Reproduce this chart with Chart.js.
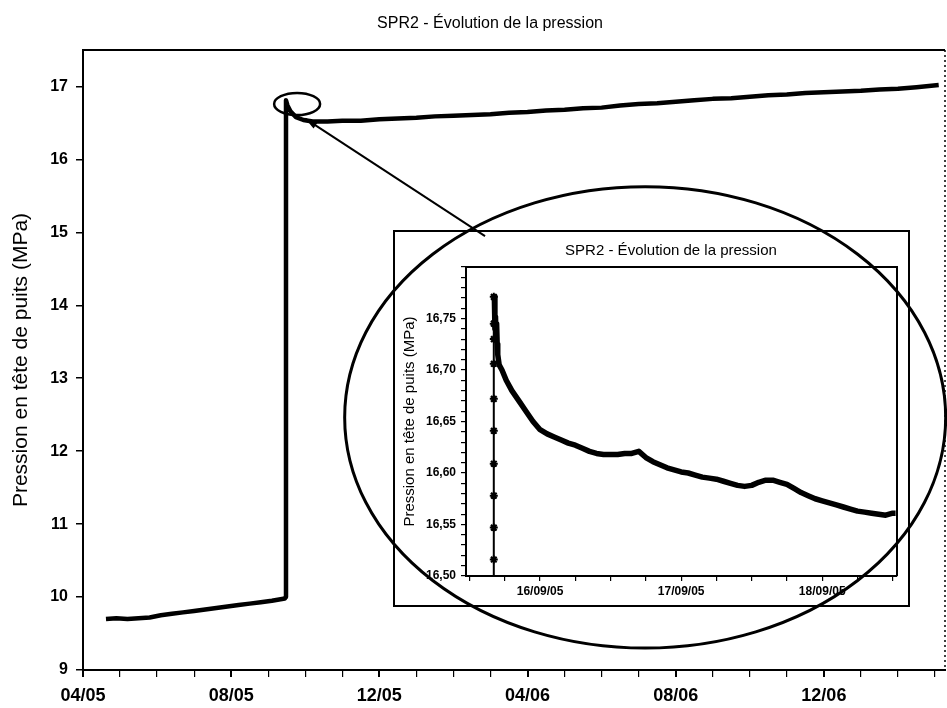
<!DOCTYPE html>
<html>
<head>
<meta charset="utf-8">
<title>SPR2 - Évolution de la pression</title>
<script src="https://cdn.jsdelivr.net/npm/chart.js@4.4.1/dist/chart.umd.min.js"></script>
<style>
  body { margin: 0; background: #fff; }
  #stage { position: relative; width: 947px; height: 708px; }
  #stage canvas { position: absolute; left: 0; top: 0; }
</style>
</head>
<body>
<div id="stage">
  <canvas id="main-chart" width="947" height="708"></canvas>
  <canvas id="inset-chart" width="947" height="708"></canvas>
</div>
<script>
const chartTitle = "SPR2 - Évolution de la pression";
const axisTitle = "Pression en tête de puits (MPa)";

// main chart: months since 04/2005
const mainMonths = [
  0.62, 0.9, 1.2, 1.5, 1.8, 2.1, 2.4, 2.7, 3.0, 3.3, 3.6, 3.9, 4.2, 4.5, 4.8, 5.1, 5.45, 5.47,
  5.48, 5.52, 5.6, 5.75, 5.95, 6.2, 6.6, 7.0, 7.5, 8.0, 8.5, 9.0, 9.5, 10.0, 10.5, 11.0, 11.5,
  12.0, 12.5, 13.0, 13.5, 14.0, 14.5, 15.0, 15.5, 16.0, 16.5, 17.0, 17.5, 18.0, 18.5, 19.0,
  19.5, 20.0, 20.5, 21.0, 21.5, 22.0, 22.5, 23.1,
];
const mainPressure = [
  9.70, 9.71, 9.70, 9.71, 9.72, 9.75, 9.77, 9.79, 9.81, 9.83, 9.85, 9.87, 9.89, 9.91, 9.93, 9.95, 9.98, 10.0,
  16.81, 16.74, 16.66, 16.58, 16.54, 16.52, 16.52, 16.53, 16.53, 16.55, 16.56, 16.57, 16.59, 16.60, 16.61, 16.62, 16.64,
  16.65, 16.67, 16.68, 16.70, 16.71, 16.74, 16.76, 16.77, 16.79, 16.81, 16.83, 16.84, 16.86, 16.88, 16.89,
  16.91, 16.92, 16.93, 16.94, 16.96, 16.97, 16.99, 17.02,
];
const mainTickMonths = [0, 4, 8, 12, 16, 20];
const mainTickLabels = ["04/05", "08/05", "12/05", "04/06", "08/06", "12/06"];

// inset chart: day of September 2005
const insetRiseDays = [15.672, 15.672, 15.672, 15.672, 15.672, 15.672, 15.672, 15.672, 15.672, 15.672, 15.672];
const insetRisePressure = [16.485, 16.516, 16.547, 16.578, 16.609, 16.641, 16.672, 16.706, 16.73, 16.745, 16.771];
const insetDays = [
  15.676, 15.68, 15.684, 15.688, 15.692, 15.696, 15.70, 15.71, 15.73, 15.76, 15.80, 15.85, 15.90, 15.95,
  16.00, 16.05, 16.10, 16.15, 16.20, 16.25, 16.30, 16.35, 16.40, 16.45, 16.50, 16.55, 16.60, 16.65, 16.70,
  16.75, 16.80, 16.85, 16.90, 16.95, 17.00, 17.05, 17.10, 17.15, 17.20, 17.25, 17.30, 17.35, 17.40, 17.45,
  17.50, 17.55, 17.60, 17.65, 17.70, 17.75, 17.80, 17.85, 17.90, 17.95, 18.00, 18.05, 18.10, 18.15, 18.20,
  18.25, 18.30, 18.35, 18.40, 18.45, 18.50, 18.52,
];
const insetPressure = [
  16.771, 16.74, 16.752, 16.73, 16.745, 16.725, 16.715, 16.705, 16.700, 16.690, 16.680, 16.670, 16.660, 16.650,
  16.642, 16.638, 16.635, 16.632, 16.629, 16.627, 16.624, 16.621, 16.619, 16.618, 16.618, 16.618, 16.619, 16.619, 16.621,
  16.615, 16.611, 16.608, 16.605, 16.603, 16.601, 16.600, 16.598, 16.596, 16.595, 16.594, 16.592, 16.590, 16.588, 16.587,
  16.588, 16.591, 16.593, 16.593, 16.591, 16.589, 16.585, 16.581, 16.578, 16.575, 16.573, 16.571, 16.569, 16.567, 16.565,
  16.563, 16.562, 16.561, 16.560, 16.559, 16.561, 16.561,
];
const insetTickDays = [16, 17, 18];
const insetTickLabels = ["16/09/05", "17/09/05", "18/09/05"];
const insetPressureTicks = [16.5, 16.55, 16.6, 16.65, 16.7, 16.75];
const insetPressureLabels = ["16,50", "16,55", "16,60", "16,65", "16,70", "16,75"];

const fontFamily = '"Liberation Sans", Arial, sans-serif';
let mainChart;
let insetChart;

function labelFor(value, ticks, labels) {
  const index = ticks.findIndex((tick) => Math.abs(tick - value) < 1e-6);
  return index >= 0 ? labels[index] : "";
}

function toPoints(xs, ys) {
  return xs.map((x, i) => ({ x, y: ys[i] }));
}

const mainFramePlugin = {
  id: "mainFrame",
  afterDraw(chart) {
    const { ctx, chartArea } = chart;
    ctx.save();
    ctx.strokeStyle = "#000";
    ctx.lineWidth = 2;
    ctx.beginPath();
    ctx.moveTo(chartArea.left, chartArea.top);
    ctx.lineTo(chartArea.right, chartArea.top);
    ctx.stroke();
    ctx.setLineDash([2, 3]);
    ctx.lineWidth = 1.5;
    ctx.beginPath();
    ctx.moveTo(chartArea.right, chartArea.top);
    ctx.lineTo(chartArea.right, chartArea.bottom);
    ctx.stroke();
    ctx.fillStyle = "#000";
    ctx.font = `16px ${fontFamily}`;
    ctx.textAlign = "center";
    ctx.textBaseline = "middle";
    ctx.fillText(chartTitle, 490, 24);
    ctx.restore();
  },
};

function renderMainChart() {
  mainChart = new Chart(document.getElementById("main-chart"), {
    type: "line",
    data: {
      datasets: [
        {
          data: toPoints(mainMonths, mainPressure),
          borderColor: "#000",
          borderWidth: 4.5,
          borderJoinStyle: "round",
          pointRadius: 0,
          tension: 0,
        },
      ],
    },
    options: {
      responsive: false,
      animation: false,
      devicePixelRatio: 1,
      layout: { padding: { top: 50, right: 2, left: 0, bottom: 0 } },
      plugins: { legend: { display: false }, tooltip: { enabled: false } },
      scales: {
        x: {
          type: "linear",
          min: 0,
          max: 23.27,
          afterFit(scale) {
            scale.height = 38;
          },
          ticks: {
            stepSize: 1,
            includeBounds: false,
            autoSkip: false,
            maxRotation: 0,
            padding: 8,
            color: "#000",
            font: { family: fontFamily, size: 18, weight: "bold" },
            callback: (value) => labelFor(value, mainTickMonths, mainTickLabels),
          },
          grid: {
            drawOnChartArea: false,
            tickLength: 7,
            color: "#000",
            lineWidth: (context) => (context.tick && context.tick.value % 4 === 0 ? 2 : 1.2),
          },
          border: { color: "#000", width: 2 },
        },
        y: {
          min: 9,
          max: 17.5,
          afterFit(scale) {
            scale.width = 83;
          },
          ticks: {
            stepSize: 1,
            includeBounds: false,
            padding: 8,
            color: "#000",
            font: { family: fontFamily, size: 16, weight: "bold" },
          },
          grid: { drawOnChartArea: false, tickLength: 7, color: "#000", lineWidth: 1.5 },
          border: { color: "#000", width: 2 },
          title: {
            display: true,
            text: axisTitle,
            color: "#000",
            font: { family: fontFamily, size: 21 },
            padding: { top: 9, bottom: 0 },
          },
        },
      },
    },
    plugins: [mainFramePlugin],
  });
}

// annotation anchors, in data units of each chart
const zoomMark = { month: 5.78, pressure: 16.76 };
const arrowTip = { month: 6.0, pressure: 16.56 };
const arrowTail = { day: 15.61, pressure: 16.83 };
const bigEllipse = { day: 16.745, pressure: 16.654, dayRadius: 2.13, pressureRadius: 0.224 };

const insetPlugin = {
  id: "insetFrame",
  beforeDraw(chart) {
    const { ctx, chartArea, scales } = chart;
    const left = chartArea.left - scales.y.width;
    const top = chartArea.top - 36;
    const right = chartArea.right + 12;
    const bottom = chartArea.bottom + scales.x.height;
    ctx.save();
    ctx.fillStyle = "#fff";
    ctx.fillRect(left, top, right - left, bottom - top);
    ctx.strokeStyle = "#000";
    ctx.lineWidth = 2;
    ctx.strokeRect(left, top, right - left, bottom - top);
    ctx.fillStyle = "#000";
    ctx.font = `15px ${fontFamily}`;
    ctx.textAlign = "center";
    ctx.textBaseline = "middle";
    ctx.fillText(chartTitle, 671, top + 20);
    ctx.restore();
  },
  afterDatasetsDraw(chart) {
    const { ctx, chartArea } = chart;
    ctx.save();
    ctx.strokeStyle = "#000";
    ctx.lineWidth = 2;
    ctx.beginPath();
    ctx.moveTo(chartArea.left, chartArea.top);
    ctx.lineTo(chartArea.right, chartArea.top);
    ctx.lineTo(chartArea.right, chartArea.bottom);
    ctx.stroke();
    ctx.restore();
  },
  afterDraw(chart) {
    const { ctx, scales } = chart;
    const mainX = mainChart.scales.x;
    const mainY = mainChart.scales.y;
    ctx.save();
    ctx.strokeStyle = "#000";
    ctx.fillStyle = "#000";
    ctx.lineWidth = 3;

    // large ellipse around the inset
    const cx = scales.x.getPixelForValue(bigEllipse.day);
    const cy = scales.y.getPixelForValue(bigEllipse.pressure);
    const rx = scales.x.getPixelForValue(bigEllipse.day + bigEllipse.dayRadius) - cx;
    const ry = cy - scales.y.getPixelForValue(bigEllipse.pressure + bigEllipse.pressureRadius);
    ctx.beginPath();
    ctx.ellipse(cx, cy, rx, ry, 0, 0, Math.PI * 2);
    ctx.stroke();

    // small ellipse on the pressure jump
    ctx.lineWidth = 2.5;
    ctx.beginPath();
    ctx.ellipse(mainX.getPixelForValue(zoomMark.month), mainY.getPixelForValue(zoomMark.pressure), 23, 11, 0, 0, Math.PI * 2);
    ctx.stroke();

    // arrow from the inset to the jump
    const tipX = mainX.getPixelForValue(arrowTip.month);
    const tipY = mainY.getPixelForValue(arrowTip.pressure);
    const tailX = scales.x.getPixelForValue(arrowTail.day);
    const tailY = scales.y.getPixelForValue(arrowTail.pressure);
    const angle = Math.atan2(tipY - tailY, tipX - tailX);
    ctx.lineWidth = 2;
    ctx.beginPath();
    ctx.moveTo(tailX, tailY);
    ctx.lineTo(tipX, tipY);
    ctx.stroke();
    ctx.beginPath();
    ctx.moveTo(tipX, tipY);
    ctx.lineTo(tipX - 13 * Math.cos(angle - 0.3), tipY - 13 * Math.sin(angle - 0.3));
    ctx.lineTo(tipX - 13 * Math.cos(angle + 0.3), tipY - 13 * Math.sin(angle + 0.3));
    ctx.closePath();
    ctx.fill();
    ctx.restore();
  },
};

function renderInsetChart() {
  insetChart = new Chart(document.getElementById("inset-chart"), {
    type: "line",
    data: {
      datasets: [
        {
          data: toPoints(insetRiseDays, insetRisePressure),
          borderColor: "#000",
          backgroundColor: "#000",
          borderWidth: 2,
          pointStyle: "star",
          pointRadius: 4,
          pointBorderWidth: 2,
        },
        {
          data: toPoints(insetDays, insetPressure),
          borderColor: "#000",
          borderWidth: 5.5,
          borderJoinStyle: "round",
          pointRadius: 0,
          tension: 0,
        },
      ],
    },
    options: {
      responsive: false,
      animation: false,
      devicePixelRatio: 1,
      layout: { padding: { left: 394, top: 267, right: 50, bottom: 102 } },
      plugins: { legend: { display: false }, tooltip: { enabled: false } },
      scales: {
        x: {
          type: "linear",
          min: 15.475,
          max: 18.53,
          afterFit(scale) {
            scale.height = 30;
          },
          ticks: {
            stepSize: 0.25,
            includeBounds: false,
            autoSkip: false,
            maxRotation: 0,
            padding: 3,
            color: "#000",
            font: { family: fontFamily, size: 12, weight: "bold" },
            callback: (value) => labelFor(value, insetTickDays, insetTickLabels),
          },
          grid: { drawOnChartArea: false, tickLength: 5, color: "#000", lineWidth: 1.2 },
          border: { color: "#000", width: 2 },
        },
        y: {
          min: 16.5,
          max: 16.8,
          afterFit(scale) {
            scale.width = 72;
          },
          ticks: {
            stepSize: 0.01,
            includeBounds: false,
            autoSkip: false,
            padding: 5,
            color: "#000",
            font: { family: fontFamily, size: 12, weight: "bold" },
            callback: (value) => labelFor(value, insetPressureTicks, insetPressureLabels),
          },
          grid: { drawOnChartArea: false, tickLength: 5, color: "#000", lineWidth: 1.2 },
          border: { color: "#000", width: 2 },
          title: {
            display: true,
            text: axisTitle,
            color: "#000",
            font: { family: fontFamily, size: 15 },
            padding: { top: 7, bottom: 0 },
          },
        },
      },
    },
    plugins: [insetPlugin],
  });
}

renderMainChart();
renderInsetChart();
</script>
</body>
</html>
